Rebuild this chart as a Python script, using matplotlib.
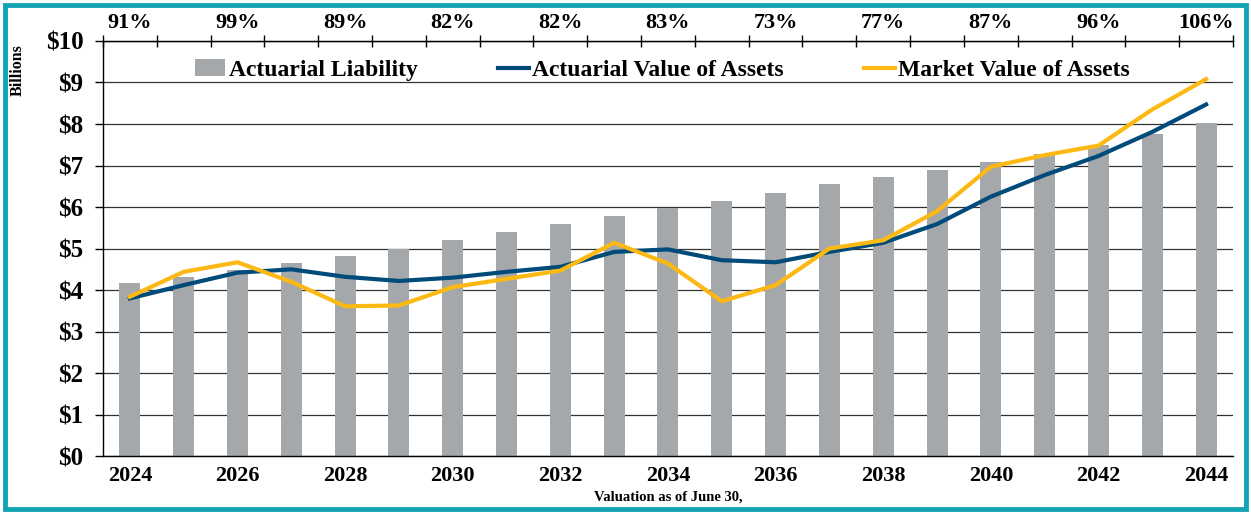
import numpy as np
import matplotlib
matplotlib.use('Agg')
import matplotlib.pyplot as plt
from matplotlib.patches import Rectangle

plt.rcParams['font.family'] = ['Liberation Serif', 'DejaVu Serif']
plt.rcParams['font.weight'] = 'bold'

# data ($ billions)
years = list(range(2024, 2045))
liability = [4.16, 4.31, 4.48, 4.65, 4.82, 5.00, 5.20, 5.40, 5.59, 5.79, 5.98,
             6.15, 6.35, 6.55, 6.72, 6.89, 7.08, 7.28, 7.49, 7.75, 8.02]
ava = [3.80, 4.12, 4.42, 4.50, 4.32, 4.22, 4.30, 4.44, 4.56, 4.92, 4.98,
       4.72, 4.67, 4.92, 5.14, 5.59, 6.25, 6.77, 7.23, 7.81, 8.47]
mva = [3.84, 4.44, 4.67, 4.20, 3.61, 3.63, 4.07, 4.27, 4.47, 5.14, 4.64,
       3.73, 4.12, 5.00, 5.20, 5.90, 6.97, 7.25, 7.48, 8.35, 9.08]
funded = ['91%', '99%', '89%', '82%', '82%', '83%', '73%', '77%', '87%', '96%', '106%']

bar_color = '#A5A8AB'
blue = '#004B7A'
gold = '#FDB913'

x = np.arange(len(years))

fig = plt.figure(figsize=(12.51, 5.12), dpi=100)
ax = fig.add_axes([0.0823, 0.109, 0.9033, 0.811])

bars = ax.bar(x, liability, width=0.39, color=bar_color, label='Actuarial Liability', zorder=2)
l1, = ax.plot(x, ava, color=blue, lw=3, label='Actuarial Value of Assets', zorder=3)
l2, = ax.plot(x, mva, color=gold, lw=3, label='Market Value of Assets', zorder=4)

ax.set_xlim(-0.5, len(years) - 0.5)
ax.set_ylim(0, 10)
ax.set_yticks(range(0, 11))
ax.set_yticklabels(['$%d' % v for v in range(0, 11)], fontsize=18, fontweight='bold')
ax.yaxis.grid(True, color='#333333', lw=0.9, zorder=1)
ax.set_axisbelow(True)
ax.tick_params(axis='y', length=6, width=1, pad=8)

ax.set_xticks(x[::2])
ax.set_xticklabels([str(y) for y in years[::2]], fontsize=16, fontweight='bold')
ax.tick_params(axis='x', length=0, pad=7)

ax.spines['right'].set_visible(False)
for s in ['left', 'bottom', 'top']:
    ax.spines[s].set_color('black')
    ax.spines[s].set_linewidth(1)

# top axis: funded ratios
ax2 = ax.twiny()
ax2.set_xlim(ax.get_xlim())
ax2.set_xticks(np.arange(-0.5, len(years), 1))
ax2.set_xticklabels([])
ax2.tick_params(axis='x', which='major', direction='inout', length=9, width=1)
ax2.set_xticks(x[::2], minor=True)
ax2.set_xticklabels(funded, minor=True, fontsize=16, fontweight='bold')
ax2.tick_params(axis='x', which='minor', length=0, pad=6)
for s in ['right', 'left', 'bottom']:
    ax2.spines[s].set_visible(False)

ax.set_ylabel('Billions', fontsize=11.5, fontweight='bold')
ax.yaxis.set_label_coords(-0.068, 0.93)
ax.set_xlabel('Valuation as of June 30,', fontsize=10.5, fontweight='bold', labelpad=3)

ax.legend([bars, l1, l2], ['Actuarial Liability', 'Actuarial Value of Assets', 'Market Value of Assets'],
          loc='center', bbox_to_anchor=(0.495, 0.93), ncol=3, frameon=False,
          prop={'size': 17, 'weight': 'bold'}, handlelength=1.3,
          handletextpad=0.15, columnspacing=3.4)

fig.patches.append(Rectangle((0.004, 0.006), 0.992, 0.984, transform=fig.transFigure,
                             fill=False, edgecolor='#12A4B4', lw=3.5))

fig.savefig('out.png', dpi=100)
